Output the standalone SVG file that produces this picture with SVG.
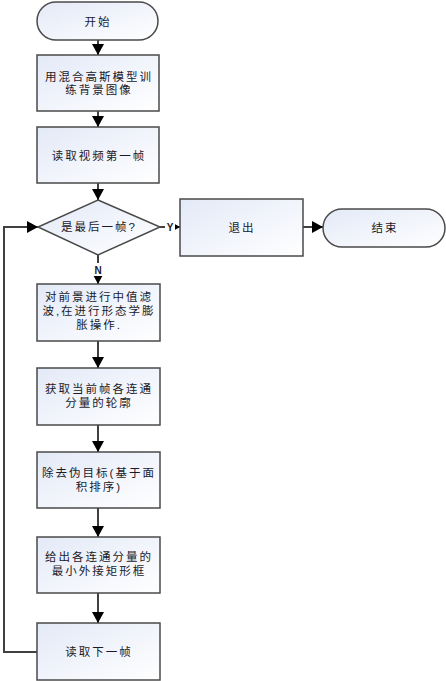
<svg xmlns="http://www.w3.org/2000/svg" width="446" height="681" viewBox="0 0 446 681">
<defs>
<linearGradient id="g" x1="0" y1="0" x2="1" y2="1">
<stop offset="0" stop-color="#e3e9f7"/>
<stop offset="1" stop-color="#ffffff"/>
</linearGradient>
<marker id="ah" markerWidth="12" markerHeight="12" refX="11" refY="6" orient="auto" markerUnits="userSpaceOnUse">
<path d="M0,0 L11,6 L0,12 z" fill="#000"/>
</marker>
<marker id="ahs" markerWidth="8" markerHeight="8" refX="7" refY="4" orient="auto" markerUnits="userSpaceOnUse">
<path d="M0,0 L7,4 L0,8 z" fill="#000"/>
</marker>
</defs>
<style>
.n{fill:url(#g);stroke:#4a4a4a;stroke-width:1.5}
.t{font-family:"Liberation Sans","Noto Sans CJK SC",sans-serif;font-size:11.5px;fill:#1a1a2a;text-anchor:middle;letter-spacing:2px}
.c{fill:none;stroke:#404040;stroke-width:2}
.l{font-family:"Liberation Sans",sans-serif;font-size:10px;font-weight:bold;fill:#1a1a2a;text-anchor:middle}
</style>
<g id="connectors">
<path class="c" d="M98,40 V55" marker-end="url(#ah)"/>
<path class="c" d="M98,111 V127" marker-end="url(#ah)"/>
<path class="c" d="M98,183 V200" marker-end="url(#ah)"/>
<path class="c" d="M160,227 H180" marker-end="url(#ahs)"/>
<path class="c" d="M303,227 H323" marker-end="url(#ah)"/>
<path class="c" d="M98,255 V284" marker-end="url(#ah)"/>
<path class="c" d="M98,341 V368" marker-end="url(#ah)"/>
<path class="c" d="M98,425 V452" marker-end="url(#ah)"/>
<path class="c" d="M98,508 V537" marker-end="url(#ah)"/>
<path class="c" d="M98,593 V623" marker-end="url(#ah)"/>
<path class="c" d="M37,652 H4 V227 H38" marker-end="url(#ah)"/>
<rect x="165" y="221" width="10" height="12" fill="#fff"/>
<text class="l" x="170" y="231">Y</text>
<rect x="92" y="263" width="12" height="13" fill="#fff"/>
<text class="l" x="98" y="274">N</text>
</g>
<g id="start">
<rect class="n" x="37" y="2" width="121" height="38" rx="19"/>
<text class="t" x="98" y="26">开始</text>
</g>
<g id="train">
<rect class="n" x="37" y="55" width="122" height="56"/>
<text class="t" x="99" y="81">用混合高斯模型训</text>
<text class="t" x="99" y="94">练背景图像</text>
</g>
<g id="read">
<rect class="n" x="37" y="127" width="122" height="56"/>
<text class="t" x="99" y="160">读取视频第一帧</text>
</g>
<g id="decision">
<polygon class="n" points="98,200 160,227 98,255 38,227"/>
<text class="t" x="99" y="231">是最后一帧?</text>
</g>
<g id="exit">
<rect class="n" x="180" y="199" width="123" height="57"/>
<text class="t" x="242" y="232">退出</text>
</g>
<g id="end">
<rect class="n" x="323" y="209" width="122" height="38" rx="19"/>
<text class="t" x="385" y="232">结束</text>
</g>
<g id="filter">
<rect class="n" x="37" y="284" width="123" height="57"/>
<text class="t" x="99" y="301">对前景进行中值滤</text>
<text class="t" x="99" y="315">波,在进行形态学膨</text>
<text class="t" x="99" y="329">胀操作.</text>
</g>
<g id="contour">
<rect class="n" x="37" y="368" width="123" height="57"/>
<text class="t" x="99" y="393">获取当前帧各连通</text>
<text class="t" x="99" y="407">分量的轮廓</text>
</g>
<g id="remove">
<rect class="n" x="37" y="452" width="123" height="56"/>
<text class="t" x="99" y="477">除去伪目标(基于面</text>
<text class="t" x="99" y="491">积排序)</text>
</g>
<g id="rect">
<rect class="n" x="37" y="537" width="123" height="56"/>
<text class="t" x="99" y="561">给出各连通分量的</text>
<text class="t" x="99" y="575">最小外接矩形框</text>
</g>
<g id="next">
<rect class="n" x="37" y="623" width="123" height="57"/>
<text class="t" x="99" y="656">读取下一帧</text>
</g>
</svg>
